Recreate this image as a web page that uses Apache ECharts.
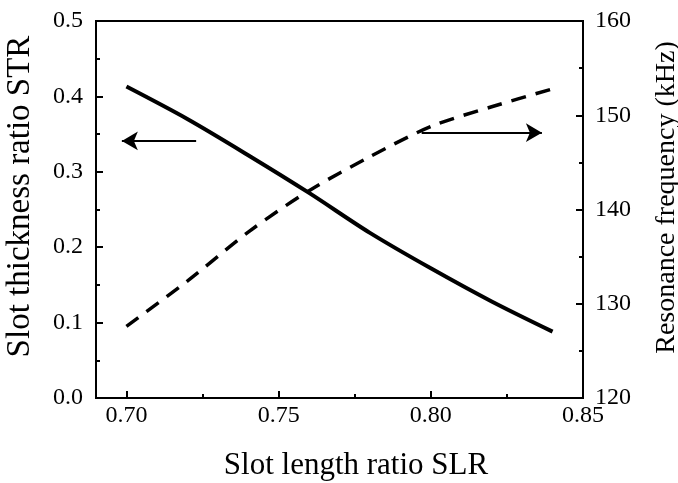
<!DOCTYPE html>
<html>
<head>
<meta charset="utf-8">
<script src="https://cdn.jsdelivr.net/npm/echarts@6/dist/echarts.min.js"></script>
<style>
  html, body { margin: 0; padding: 0; background: #fff; }
  #chart { width: 678px; height: 483px; }
</style>
</head>
<body>
<div id="chart"></div>
<script>
// Slot length ratio (x) and the two responses
const slr = [0.70, 0.72, 0.74, 0.76, 0.78, 0.80, 0.82, 0.84];
const str = [0.413, 0.370, 0.322, 0.272, 0.219, 0.172, 0.128, 0.088];
const freq = [127.6, 132.4, 137.6, 142.0, 145.6, 148.8, 150.9, 152.8];

const xMajor = [0.70, 0.75, 0.80, 0.85];
const xMinor = [0.725, 0.775, 0.825];

// Arrows pointing each curve to its own axis
const leftArrow = { from: [0.7229, 0.341], to: [0.6985, 0.341] };
const rightArrow = { from: [0.797, 148.15], to: [0.8365, 148.15] };

const FONT = 'Liberation Serif';
const tickFont = { fontFamily: FONT, fontSize: 24, color: '#000' };
const axisLine = { show: true, lineStyle: { color: '#000', width: 2 } };

const chart = echarts.init(document.getElementById('chart'), null, { renderer: 'canvas' });

chart.setOption({
  backgroundColor: '#fff',
  animation: false,
  grid: {
    left: 96, right: 95, top: 21, bottom: 85,
    outerBoundsMode: 'none', containLabel: false,
    show: true, borderColor: '#000', borderWidth: 2, backgroundColor: 'transparent'
  },
  xAxis: [
    {
      type: 'value', min: 0.69, max: 0.85, position: 'bottom',
      name: 'Slot length ratio SLR', nameLocation: 'middle', nameGap: 52,
      nameTextStyle: { fontFamily: FONT, fontSize: 31, color: '#000', padding: [0, 0, 0, 33] },
      axisLine: axisLine,
      axisTick: { show: true, inside: true, length: 7, customValues: xMajor, lineStyle: { color: '#000', width: 2 } },
      axisLabel: { customValues: xMajor, formatter: v => v.toFixed(2), margin: 6, ...tickFont },
      splitLine: { show: false }
    },
    {
      // short ticks halfway between the labelled ones
      type: 'value', min: 0.69, max: 0.85, position: 'bottom', offset: 0,
      axisLine: axisLine,
      axisTick: { show: true, inside: true, length: 4, customValues: xMinor, lineStyle: { color: '#000', width: 2 } },
      axisLabel: { show: true, customValues: xMinor, formatter: () => '' },
      splitLine: { show: false }
    }
  ],
  yAxis: [
    {
      type: 'value', min: 0, max: 0.5, interval: 0.1, position: 'left',
      name: 'Slot thickness ratio STR', nameLocation: 'middle', nameGap: 59,
      nameTextStyle: { fontFamily: FONT, fontSize: 33, color: '#000', padding: [0, 0, 0, 26] },
      axisLine: axisLine,
      axisTick: { show: true, inside: true, length: 7, lineStyle: { color: '#000', width: 2 } },
      minorTick: { show: true, splitNumber: 2, length: 4, lineStyle: { color: '#000', width: 2 } },
      axisLabel: { formatter: v => v.toFixed(1), margin: 13, ...tickFont },
      splitLine: { show: false }
    },
    {
      type: 'value', min: 120, max: 160, interval: 10, position: 'right',
      name: 'Resonance frequency (kHz)', nameLocation: 'middle', nameGap: 70,
      nameTextStyle: { fontFamily: FONT, fontSize: 28, color: '#000', padding: [0, 0, 0, 24] },
      axisLine: axisLine,
      axisTick: { show: true, inside: true, length: 7, lineStyle: { color: '#000', width: 2 } },
      minorTick: { show: true, splitNumber: 2, length: 4, lineStyle: { color: '#000', width: 2 } },
      axisLabel: { margin: 12, ...tickFont },
      splitLine: { show: false }
    }
  ],
  series: [
    {
      name: 'STR', type: 'line', xAxisIndex: 0, yAxisIndex: 0,
      data: slr.map((x, i) => [x, str[i]]),
      showSymbol: false, smooth: 0.3,
      lineStyle: { color: '#000', width: 4 },
      markLine: {
        silent: true, symbol: ['none', 'arrow'], symbolSize: [14, 16],
        label: { show: false },
        lineStyle: { color: '#000', width: 2, type: 'solid' },
        data: [[{ coord: leftArrow.from }, { coord: leftArrow.to }]]
      }
    },
    {
      name: 'Frequency', type: 'line', xAxisIndex: 0, yAxisIndex: 1,
      data: slr.map((x, i) => [x, freq[i]]),
      showSymbol: false, smooth: 0.3,
      lineStyle: { color: '#000', width: 3.5, type: [15, 10] },
      markLine: {
        silent: true, symbol: ['none', 'arrow'], symbolSize: [14, 16],
        label: { show: false },
        lineStyle: { color: '#000', width: 2, type: 'solid' },
        data: [[{ coord: rightArrow.from }, { coord: rightArrow.to }]]
      }
    },
    {
      // binds the short-tick axis into the grid; draws nothing
      type: 'line', xAxisIndex: 1, yAxisIndex: 0, data: [], showSymbol: false
    }
  ]
});
</script>
</body>
</html>
